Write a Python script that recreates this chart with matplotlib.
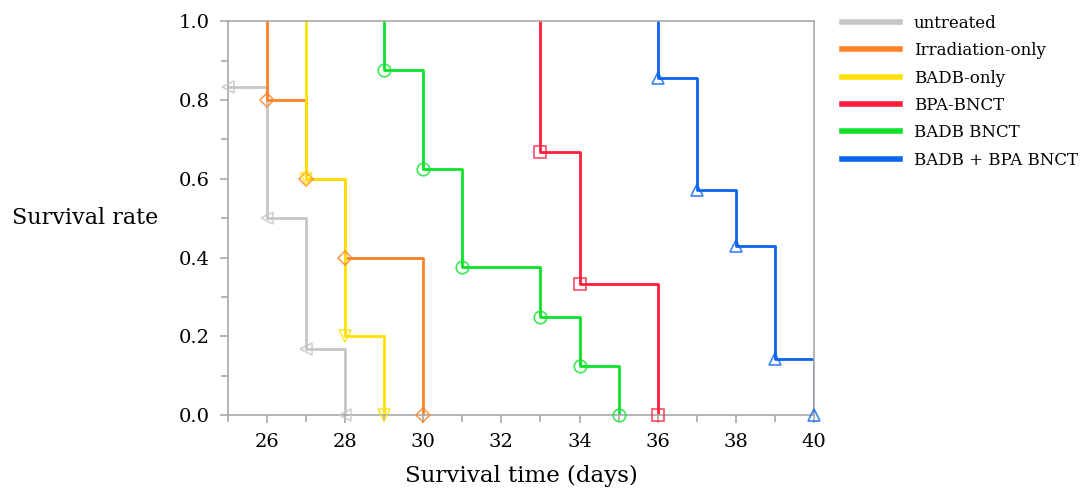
import matplotlib.pyplot as plt
from matplotlib.ticker import MultipleLocator

# grup isimleri ve renkler
groups = ["untreated", "Irradiation-only", "BADB-only", "BPA-BNCT", "BADB BNCT", "BADB + BPA BNCT"]
colors = ["#c6c6c6", "#ff8228", "#ffe100", "#ff1e3c", "#0ce22a", "#0a64f0"]
markers = ["<", "D", "v", "s", "o", "^"]

# olum zamanlari ve hayatta kalma oranlari
untreated_t = [25, 26, 27, 28]
untreated_s = [0.833, 0.5, 0.167, 0.0]
irr_t = [26, 27, 28, 30]
irr_s = [0.8, 0.6, 0.4, 0.0]
badb_t = [27, 28, 29]
badb_s = [0.6, 0.2, 0.0]
bpa_t = [33, 34, 36]
bpa_s = [0.667, 0.333, 0.0]
badb_bnct_t = [29, 30, 31, 33, 34, 35]
badb_bnct_s = [0.875, 0.625, 0.375, 0.25, 0.125, 0.0]
combo_t = [36, 37, 38, 39, 40]
combo_s = [0.857, 0.571, 0.429, 0.143, 0.0]

times = [untreated_t, irr_t, badb_t, bpa_t, badb_bnct_t, combo_t]
surv = [untreated_s, irr_s, badb_s, bpa_s, badb_bnct_s, combo_s]

plt.rcParams["font.family"] = ["DejaVu Serif"]

fig = plt.figure(figsize=(10.91, 4.93), dpi=100)
ax = fig.add_axes([0.209, 0.158, 0.537, 0.799])

for name, c, m, t, s in zip(groups, colors, markers, times, surv):
    # egri 1.0 seviyesinden ilk olum zamaninda baslar (eksen kenarindaysa baslamaz)
    if t[0] > 25:
        xs, ys = [t[0]] + t, [1.0] + s
    else:
        xs, ys = t, s
    ax.step(xs, ys, where="post", color=c, lw=2.0, label=name, zorder=2)
    ax.plot(t, s, ls="none", marker=m, ms=9 if m != "D" else 7.5, mfc="none",
            mec=c, mew=1.2, alpha=0.8, clip_on=False, zorder=3)

ax.set_xlim(25, 40)
ax.set_ylim(0, 1)
ax.xaxis.set_major_locator(MultipleLocator(2))
ax.xaxis.set_minor_locator(MultipleLocator(1))
ax.yaxis.set_major_locator(MultipleLocator(0.2))
ax.yaxis.set_minor_locator(MultipleLocator(0.1))
ax.yaxis.set_major_formatter(lambda v, p: f"{v:.1f}")

for sp in ax.spines.values():
    sp.set_color("#a8a8a8")
    sp.set_linewidth(1.2)
ax.tick_params(which="both", direction="out", color="#a8a8a8", width=1.2, labelsize=14)
ax.tick_params(which="major", length=6, pad=7)
ax.tick_params(which="minor", length=5)

ax.set_xlabel("Survival time (days)", fontsize=16.5, labelpad=10)
fig.text(0.011, 0.557, "Survival rate", fontsize=16, va="center", ha="left")

leg = fig.legend(loc="upper left", bbox_to_anchor=(0.758, 1.0), frameon=False,
                 fontsize=12, handlelength=3.5, handletextpad=0.8, labelspacing=0.62)
for ln in leg.get_lines():
    ln.set_linewidth(4)

fig.savefig("out.png", dpi=100)
